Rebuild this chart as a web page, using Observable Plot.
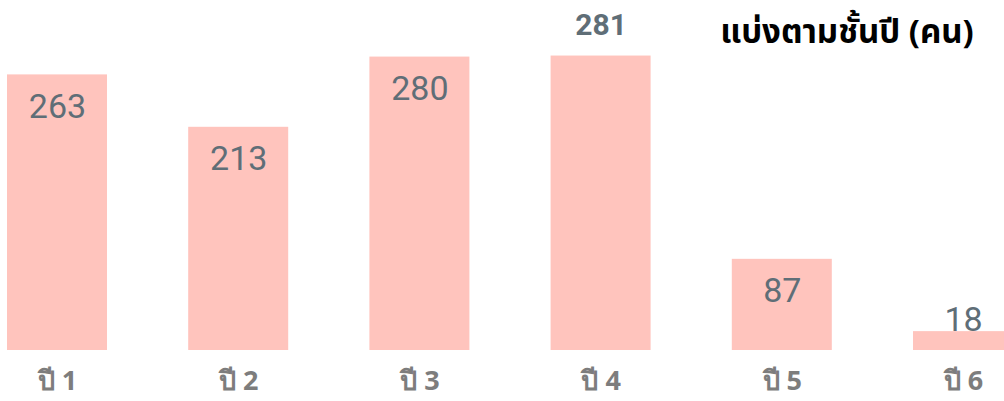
<!DOCTYPE html>
<html><head><meta charset="utf-8">
<script src="https://cdn.jsdelivr.net/npm/d3@7"></script>
<script src="https://cdn.jsdelivr.net/npm/@observablehq/plot@0.6"></script>
<style>
html,body{margin:0;padding:0;background:#fff;overflow:hidden;}
#wrap{position:relative;width:1004px;height:401px;}
#title{position:absolute;left:680px;width:334px;top:11px;text-align:center;font-family:"Noto Sans","Noto Sans Thai",sans-serif;font-weight:700;font-size:33px;line-height:40px;color:#000;}
</style>
</head><body>
<div id="wrap"><div id="title">แบ่งตามชั้นปี (คน)</div></div>
<script>
const years = ["ปี 1", "ปี 2", "ปี 3", "ปี 4", "ปี 5", "ปี 6"];
const students = [263, 213, 280, 281, 87, 18];
const data = years.map((y, i) => ({year: y, value: students[i]}));
const insideData = data.filter(d => d.value !== 281 && d.value !== 18);
const peakData = data.filter(d => d.value === 281);
const smallData = data.filter(d => d.value === 18);
const chart = Plot.plot({
  width: 1004, height: 401,
  marginTop: 0, marginBottom: 51, marginLeft: 0, marginRight: 0,
  style: {fontFamily: "Roboto, sans-serif", background: "transparent"},
  x: {domain: years, range: [7, 1013], paddingInner: 0.4481, paddingOuter: 0, align: 0, round: false},
  y: {domain: [0, 334], axis: null},
  marks: [
    Plot.barY(data, {x: "year", y: "value", fill: "#ffc4bd"}),
    Plot.axisX({tickSize: 0, tickPadding: 20, fontSize: 27, fontWeight: 700, fill: "#7d7d7d", fontFamily: "'Noto Sans', sans-serif", label: null}),
    Plot.text(insideData, {x: "year", y: "value", text: d => String(d.value), dy: 32, fontSize: 34, fill: "#5f6e77"}),
    Plot.text(peakData, {x: "year", y: "value", text: d => String(d.value), dy: -31, fontSize: 30, fontWeight: 700, fill: "#5f6e77"}),
    Plot.text(smallData, {x: "year", y: "value", text: d => String(d.value), dy: -12, fontSize: 34, fill: "#5f6e77"})
  ]
});
document.getElementById("wrap").prepend(chart);
</script>
</body></html>
